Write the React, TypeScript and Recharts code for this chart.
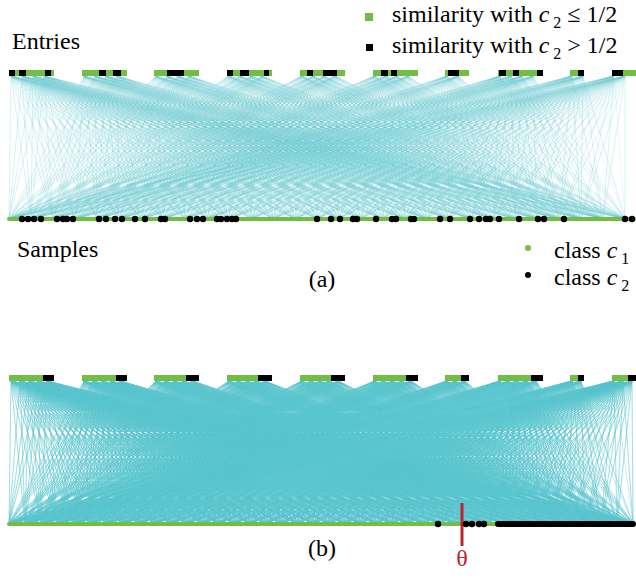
import React from 'react';
import { ComposedChart, Line, Scatter, XAxis, YAxis } from 'recharts';

const W = 636;
const H = 579;

const GREEN = '#72be44';
const BLACK = '#000000';
const CYAN_A = '#6ccbd6';
const CYAN_B = '#5cc6d0';
const RED = '#b8252f';

// top entry groups (x ranges), same in both panels
const groupSpans = [
  [9, 54], [82, 127], [154, 199], [227, 272], [300, 345],
  [373, 418], [445, 469], [498, 543], [570, 584], [612, 636],
];

// parts of the groups whose similarity with c2 > 1/2, panel (a)
const blackSegA = [
  [9, 15], [19, 26], [45, 51], [99, 106], [113, 121], [167, 184],
  [227, 233], [240, 249], [264, 269], [307, 313], [323, 337],
  [381, 388], [391, 397], [448, 459], [499, 506], [513, 519],
  [537, 543], [578, 584], [612, 623],
];

// panel (b), entries sorted
const blackSegB = [
  [43, 54], [116, 127], [186, 199], [258, 272], [331, 345],
  [406, 418], [461, 469], [531, 543], [578, 584], [628, 636],
];

// samples of class c2 along the sample line, panel (a)
const classC2A = [
  22, 28, 34, 41, 57, 63, 67, 73, 99, 106, 115, 122, 135, 145, 161, 165,
  190, 197, 203, 217, 221, 227, 232, 236, 317, 331, 340, 353, 357, 376,
  392, 396, 411, 414, 440, 450, 470, 479, 486, 490, 499, 519, 538, 544,
  564, 625, 632,
];

// panel (b): sorted samples, scattered c2 then a solid run
const classC2B = [438, 466, 472, 479, 484];
const c2RunB = [498, 633];
const sampleLine = [9, 634];
const theta = 462;

// vertical layout (same units as pixels)
const A = { barY: 73, top: 76, bot: 219 };
const B = { barY: 378, top: 381, bot: 524 };

const segLine = (segs: number[][], y: number) => {
  const out: { x: number; y: number | null }[] = [];
  segs.forEach(([a, b]) => {
    out.push({ x: a, y });
    out.push({ x: b, y });
    out.push({ x: b, y: null });
  });
  return out;
};

// zigzag path through entry -> sample pairs, one fan per entry position
const fan = (span: number[], yTop: number, yBot: number, step: number, tStep: number) => {
  const pts: { x: number; y: number }[] = [];
  for (let x = span[0] + 2; x <= span[1] - 1; x += step) {
    for (let t = sampleLine[0]; t <= sampleLine[1]; t += tStep) {
      pts.push({ x, y: yTop });
      pts.push({ x: t, y: yBot });
    }
  }
  return pts;
};

const dot = (r: number) => (p: any) => <circle cx={p.cx} cy={p.cy} r={r} fill={BLACK} />;

const SERIF = '"Liberation Serif", serif';

const Sub = ({ c, n }: { c: string; n: string }) => (
  <>
    <tspan fontStyle="italic">{c}</tspan>
    <tspan dx={4} dy={6} fontSize={16}>{n}</tspan>
    <tspan dy={-6}> </tspan>
  </>
);

const T = (props: any) => (
  <text fill="#000" {...props} style={{ fontFamily: SERIF, fontSize: 24 }} />
);

export default function App() {
  return (
    <div style={{ position: 'absolute', left: 0, top: 0, width: W, height: H, background: '#fff' }}>
      <ComposedChart width={W} height={H} margin={{ top: 0, right: 0, bottom: 0, left: 0 }}>
        <XAxis type="number" dataKey="x" domain={[0, W]} hide allowDataOverflow />
        <YAxis type="number" dataKey="y" domain={[0, H]} reversed hide allowDataOverflow />

        {groupSpans.map((s, i) => (
          <Line key={`fa${i}`} data={fan(s, A.top, A.bot, 11, 22)} dataKey="y" stroke={CYAN_A}
            strokeWidth={0.25} strokeOpacity={0.55} dot={false} activeDot={false} isAnimationActive={false} />
        ))}
        {groupSpans.map((s, i) => (
          <Line key={`fb${i}`} data={fan(s, B.top, B.bot, 9, 16)} dataKey="y" stroke={CYAN_B}
            strokeWidth={0.4} strokeOpacity={0.85} dot={false} activeDot={false} isAnimationActive={false} />
        ))}

        {/* entries */}
        <Line data={segLine(groupSpans, A.barY)} dataKey="y" stroke={GREEN} strokeWidth={6} strokeLinecap="butt"
          dot={false} activeDot={false} isAnimationActive={false} />
        <Line data={segLine(blackSegA, A.barY)} dataKey="y" stroke={BLACK} strokeWidth={6} strokeLinecap="butt"
          dot={false} activeDot={false} isAnimationActive={false} />
        <Line data={segLine(groupSpans, B.barY)} dataKey="y" stroke={GREEN} strokeWidth={6} strokeLinecap="butt"
          dot={false} activeDot={false} isAnimationActive={false} />
        <Line data={segLine(blackSegB, B.barY)} dataKey="y" stroke={BLACK} strokeWidth={6} strokeLinecap="butt"
          dot={false} activeDot={false} isAnimationActive={false} />

        {/* samples */}
        <Line data={segLine([sampleLine], A.bot)} dataKey="y" stroke={GREEN} strokeWidth={4} strokeLinecap="round"
          dot={false} activeDot={false} isAnimationActive={false} />
        <Line data={segLine([sampleLine], B.bot)} dataKey="y" stroke={GREEN} strokeWidth={4} strokeLinecap="round"
          dot={false} activeDot={false} isAnimationActive={false} />
        <Line data={segLine([c2RunB], B.bot)} dataKey="y" stroke={BLACK} strokeWidth={6} strokeLinecap="round"
          dot={false} activeDot={false} isAnimationActive={false} />
        <Scatter data={classC2A.map((x) => ({ x, y: A.bot }))} shape={dot(3.2)} isAnimationActive={false} />
        <Scatter data={classC2B.map((x) => ({ x, y: B.bot }))} shape={dot(3.2)} isAnimationActive={false} />

        {/* threshold */}
        <Line data={[{ x: theta, y: 503 }, { x: theta, y: 546 }]} dataKey="y" stroke={RED} strokeWidth={3}
          dot={false} activeDot={false} isAnimationActive={false} />
      </ComposedChart>

      <svg width={W} height={H} style={{ position: 'absolute', left: 0, top: 0, pointerEvents: 'none' }}>
        <T x={12} y={49}>Entries</T>
        <T x={17} y={257}>Samples</T>
        <T x={322} y={287} textAnchor="middle">(a)</T>
        <T x={322} y={556} textAnchor="middle">(b)</T>
        <T x={462} y={566} textAnchor="middle" fill={RED}>θ</T>

        <T x={392} y={22}>similarity with <Sub c="c" n="2" />≤ 1/2</T>
        <T x={392} y={53}>similarity with <Sub c="c" n="2" />&gt; 1/2</T>
        <T x={554} y={258}>class <Sub c="c" n="1" /></T>
        <T x={554} y={285}>class <Sub c="c" n="2" /></T>

        <rect x={365} y={13} width={8} height={8} fill={GREEN} />
        <rect x={366} y={44} width={7} height={7} fill={BLACK} />
        <circle cx={528} cy={248} r={3} fill={GREEN} />
        <circle cx={528} cy={275} r={3} fill={BLACK} />
      </svg>
    </div>
  );
}
